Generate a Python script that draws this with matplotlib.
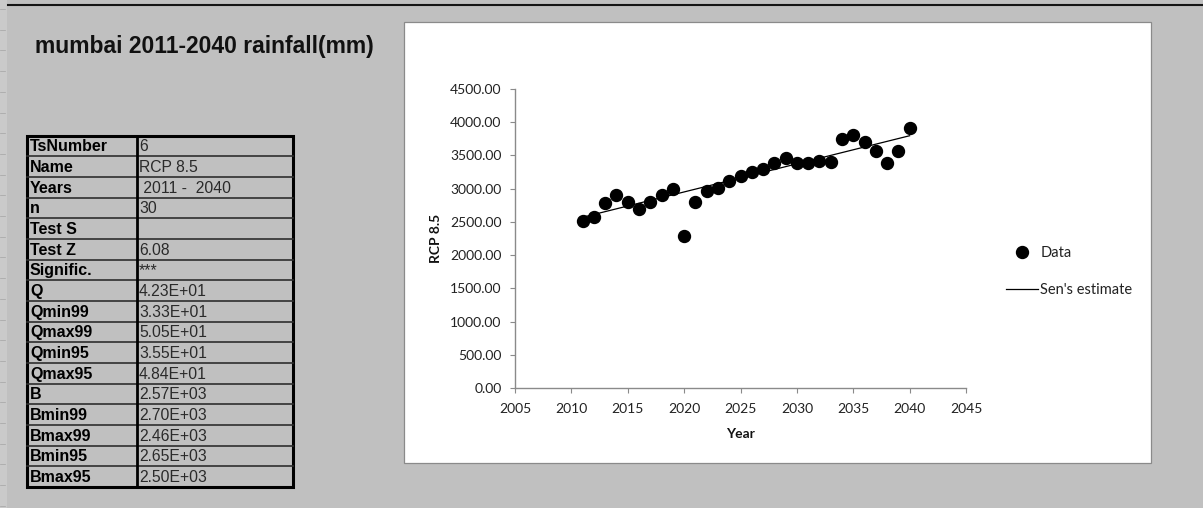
import matplotlib
matplotlib.use('Agg')
import matplotlib.pyplot as plt
from matplotlib.patches import Rectangle
import numpy as np

# Mann-Kendall test / Sen's slope summary for the RCP 8.5 run
table_labels = ['TsNumber', 'Name', 'Years', 'n', 'Test S', 'Test Z', 'Signific.',
                'Q', 'Qmin99', 'Qmax99', 'Qmin95', 'Qmax95',
                'B', 'Bmin99', 'Bmax99', 'Bmin95', 'Bmax95']
table_values = ['6', 'RCP 8.5', ' 2011 -  2040', '30', '', '6.08', '***',
                '4.23E+01', '3.33E+01', '5.05E+01', '3.55E+01', '4.84E+01',
                '2.57E+03', '2.70E+03', '2.46E+03', '2.65E+03', '2.50E+03']

# annual rainfall (mm), mumbai
years = [2011, 2012, 2013, 2014, 2015, 2016, 2017, 2018, 2019, 2020,
         2021, 2022, 2023, 2024, 2025, 2026, 2027, 2028, 2029, 2030,
         2031, 2032, 2033, 2034, 2035, 2036, 2037, 2038, 2039, 2040]
rainfall = [2510, 2580, 2790, 2900, 2800, 2690, 2800, 2900, 3000, 2290,
            2800, 2960, 3010, 3110, 3190, 3250, 3300, 3380, 3460, 3390,
            3380, 3410, 3400, 3750, 3810, 3700, 3570, 3380, 3570, 3910]

# Sen's slope (Q) and intercept (B) from the table
sen_q = 42.3
sen_b = 2570.0

x_ticks = [2005, 2010, 2015, 2020, 2025, 2030, 2035, 2040, 2045]
y_ticks = [0, 500, 1000, 1500, 2000, 2500, 3000, 3500, 4000, 4500]

W, H = 1203, 508
GREY = '#c0c0c0'
CHART_FONT = 'Lato'


def draw_sheet(fig):
    # worksheet background, drawn in pixel coordinates
    bg = fig.add_axes([0, 0, 1, 1])
    bg.set_xlim(0, W)
    bg.set_ylim(H, 0)
    bg.axis('off')

    bg.add_patch(Rectangle((0, 0), 7, H, facecolor='#cacaca', edgecolor='none'))
    for y in np.arange(9, H, 20.7):
        bg.plot([0, 5], [y, y], color='#a4a4a4', lw=0.5)
    bg.plot([8, W], [4.8, 4.8], color='#151515', lw=1.5)

    bg.text(35, 53, 'mumbai 2011-2040 rainfall(mm)', fontsize=16.5,
            fontweight='bold', family='Liberation Sans', color='#111111',
            ha='left', va='baseline')

    # results table
    left, sep, right = 27, 137, 293
    top, bottom = 135.5, 487
    row_h = (bottom - top) / len(table_labels)
    for i in range(1, len(table_labels)):
        y = top + i * row_h
        bg.plot([left, right], [y, y], color='#2e2e2e', lw=1.2)
    bg.plot([sep, sep], [top, bottom], color='black', lw=2.0)
    bg.add_patch(Rectangle((left, top), right - left, bottom - top,
                           facecolor='none', edgecolor='black', lw=2.2))
    for i, (lab, val) in enumerate(zip(table_labels, table_values)):
        yc = top + (i + 0.5) * row_h + 1
        bg.text(30, yc, lab, fontsize=11.5, fontweight='bold',
                family='Liberation Sans', color='black', ha='left', va='center')
        bg.text(139, yc, val, fontsize=11.3, family='Liberation Sans',
                color='#2a2a2a', ha='left', va='center')

    # white chart area
    bg.add_patch(Rectangle((403.5, 21.7), 747, 441.3, facecolor='white',
                           edgecolor='#8a8a8a', lw=0.9))


def plot_trend(fig):
    ax = fig.add_axes([515 / W, 120 / H, 451 / W, 299 / H])
    ax.patch.set_alpha(0)

    yrs = np.array(years)
    trend = sen_b + sen_q * (yrs - yrs[0])
    sen_line, = ax.plot(yrs, trend, color='black', lw=0.9)
    data_pts, = ax.plot(years, rainfall, 'o', color='black', ms=8.6, ls='none')

    ax.set_xlim(2005, 2045)
    ax.set_ylim(0, 4500)
    ax.set_xticks(x_ticks)
    ax.set_yticks(y_ticks)
    ax.set_yticklabels(['%.2f' % v for v in y_ticks])

    for side in ['top', 'right']:
        ax.spines[side].set_visible(False)
    for side in ['left', 'bottom']:
        ax.spines[side].set_color('#8a8a8a')
        ax.spines[side].set_linewidth(1.0)

    ax.tick_params(direction='out', length=3.6, width=0.8, color='#8a8a8a',
                   labelsize=10, labelcolor='#222222')
    ax.tick_params(axis='y', pad=6)
    ax.tick_params(axis='x', pad=7)
    for lbl in ax.get_xticklabels() + ax.get_yticklabels():
        lbl.set_family(CHART_FONT)

    ax.set_xlabel('Year', fontsize=10, fontweight='bold', family=CHART_FONT,
                  color='#111111', va='center')
    ax.xaxis.set_label_coords(0.5, -0.154)
    ax.set_ylabel('RCP 8.5', fontsize=10, fontweight='bold', family=CHART_FONT,
                  color='#111111', va='center')
    ax.yaxis.set_label_coords(-0.176, 0.5)

    ax.legend([data_pts, sen_line], ['Data', "Sen's estimate"],
              loc='center left', bbox_to_anchor=(1006 / W, 1 - 271.5 / H),
              bbox_transform=fig.transFigure, frameon=False, numpoints=1,
              handlelength=2.2, handletextpad=0.15, labelspacing=1.55,
              borderpad=0, borderaxespad=0,
              prop={'family': CHART_FONT, 'size': 10.5})
    for t in ax.get_legend().get_texts():
        t.set_color('#222222')
    return ax


def main():
    fig = plt.figure(figsize=(W / 100, H / 100), dpi=100, facecolor=GREY)
    draw_sheet(fig)
    plot_trend(fig)
    fig.savefig('out.png', dpi=100, facecolor=GREY)


if __name__ == "__main__":
    main()
